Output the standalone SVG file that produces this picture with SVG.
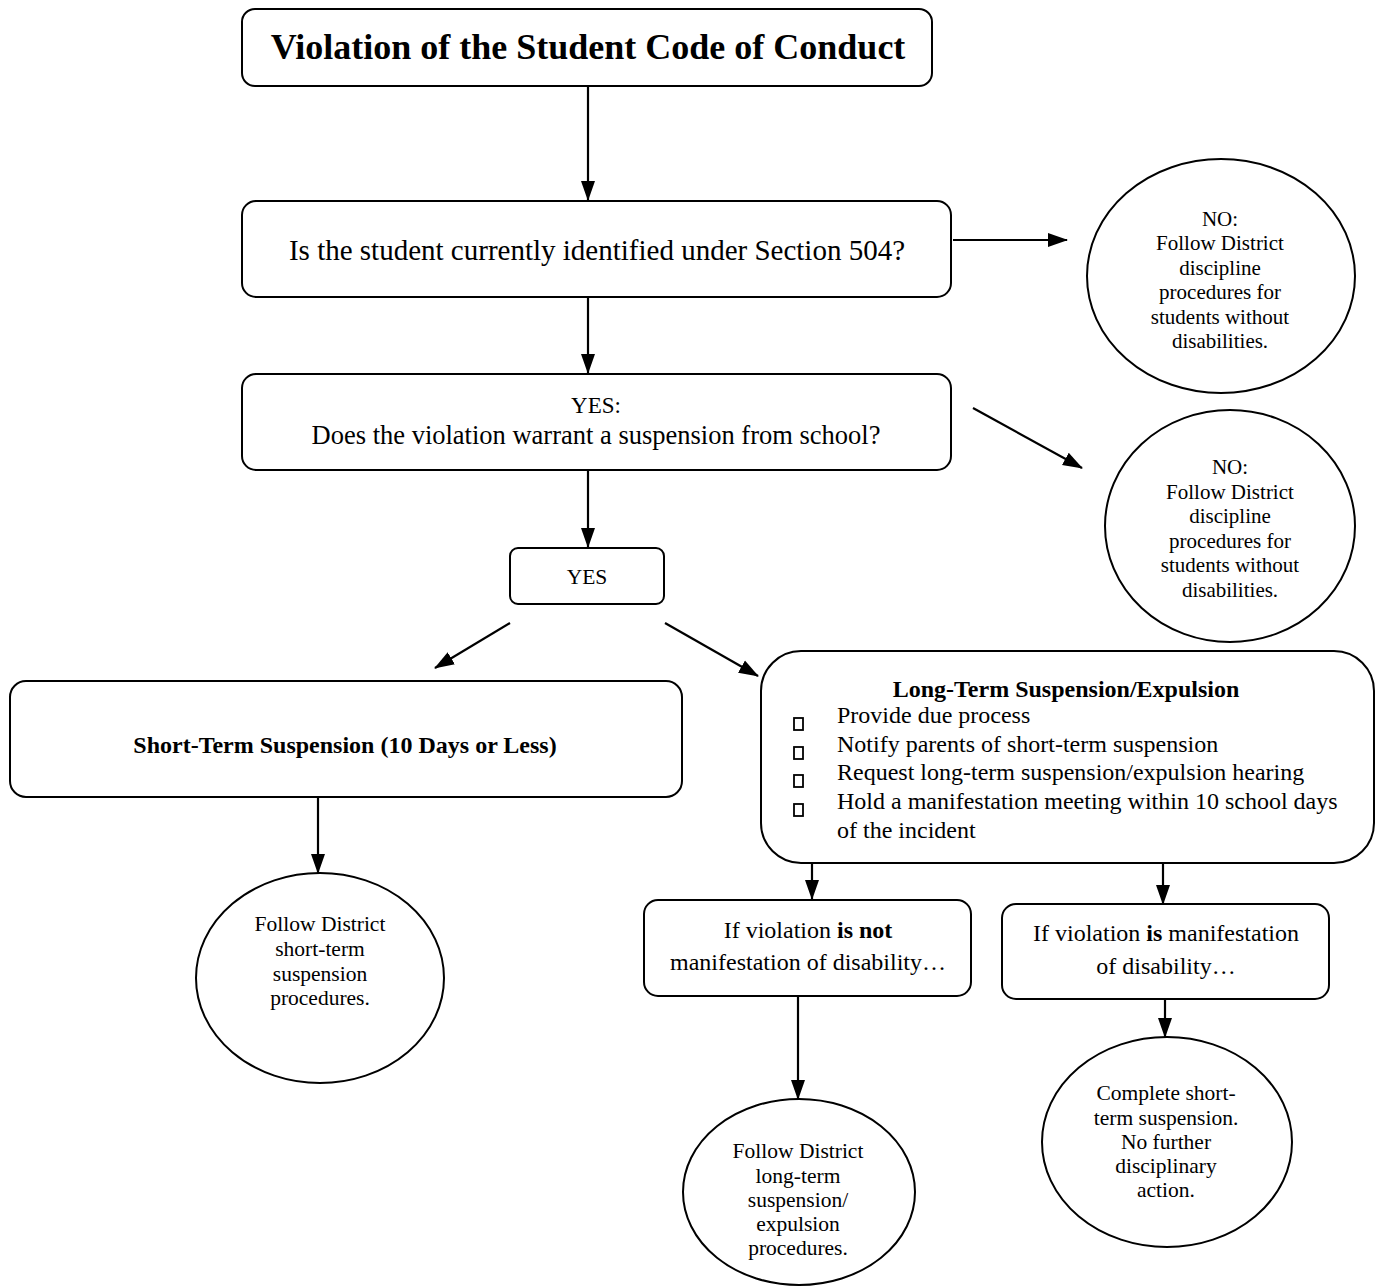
<svg xmlns="http://www.w3.org/2000/svg" width="1381" height="1287" viewBox="0 0 1381 1287">
<defs>
<style>
.box{fill:#fff;stroke:#000;stroke-width:2}
.t{font-family:"Liberation Serif","Times New Roman",serif;fill:#000;text-anchor:middle}
.l{font-family:"Liberation Serif","Times New Roman",serif;fill:#000}
.b{font-weight:bold}
.c{stroke:#000;stroke-width:2.2;fill:none}
.bul{fill:none;stroke:#000;stroke-width:1.8}
</style>
<marker id="ah" markerUnits="userSpaceOnUse" markerWidth="20" markerHeight="16" viewBox="0 0 20 16" refX="19" refY="8" orient="auto">
<path d="M0,1 L20,8 L0,15 Z" fill="#000"/>
</marker>
</defs>
<rect width="1381" height="1287" fill="#fff"/>
<g id="connectors">
<line class="c" x1="588" y1="87" x2="588" y2="200" marker-end="url(#ah)"/>
<line class="c" x1="953" y1="240" x2="1067" y2="240" marker-end="url(#ah)"/>
<line class="c" x1="588" y1="298" x2="588" y2="373" marker-end="url(#ah)"/>
<line class="c" x1="973" y1="408" x2="1082" y2="468" marker-end="url(#ah)"/>
<line class="c" x1="588" y1="470" x2="588" y2="547" marker-end="url(#ah)"/>
<line class="c" x1="510" y1="623" x2="435" y2="668" marker-end="url(#ah)"/>
<line class="c" x1="665" y1="623" x2="758" y2="676" marker-end="url(#ah)"/>
<line class="c" x1="318" y1="797" x2="318" y2="873" marker-end="url(#ah)"/>
<line class="c" x1="812" y1="863" x2="812" y2="899" marker-end="url(#ah)"/>
<line class="c" x1="1163" y1="863" x2="1163" y2="904" marker-end="url(#ah)"/>
<line class="c" x1="798" y1="997" x2="798" y2="1099" marker-end="url(#ah)"/>
<line class="c" x1="1165" y1="1000" x2="1165" y2="1037" marker-end="url(#ah)"/>
</g>
<g id="n-violation">
<rect class="box" x="242" y="9" width="690" height="77" rx="13"/>
<text class="t b" x="588" y="59" font-size="36">Violation of the Student Code of Conduct</text>
</g>
<g id="n-section504">
<rect class="box" x="242" y="201" width="709" height="96" rx="14"/>
<text class="t" x="597" y="260" font-size="29">Is the student currently identified under Section 504?</text>
</g>
<g id="n-no1">
<ellipse class="box" cx="1221" cy="276" rx="134" ry="117"/>
<text class="t" x="1220" y="226" font-size="21">NO:</text>
<text class="t" x="1220" y="250" font-size="21">Follow District</text>
<text class="t" x="1220" y="275" font-size="21">discipline</text>
<text class="t" x="1220" y="299" font-size="21">procedures for</text>
<text class="t" x="1220" y="324" font-size="21">students without</text>
<text class="t" x="1220" y="348" font-size="21">disabilities.</text>
</g>
<g id="n-warrant">
<rect class="box" x="242" y="374" width="709" height="96" rx="14"/>
<text class="t" x="596" y="413" font-size="23">YES:</text>
<text class="t" x="596" y="444" font-size="26.5">Does the violation warrant a suspension from school?</text>
</g>
<g id="n-no2">
<ellipse class="box" cx="1230" cy="526" rx="125" ry="116"/>
<text class="t" x="1230" y="474" font-size="21">NO:</text>
<text class="t" x="1230" y="499" font-size="21">Follow District</text>
<text class="t" x="1230" y="523" font-size="21">discipline</text>
<text class="t" x="1230" y="548" font-size="21">procedures for</text>
<text class="t" x="1230" y="572" font-size="21">students without</text>
<text class="t" x="1230" y="597" font-size="21">disabilities.</text>
</g>
<g id="n-yes">
<rect class="box" x="510" y="548" width="154" height="56" rx="8"/>
<text class="t" x="587" y="584" font-size="21.5">YES</text>
</g>
<g id="n-short">
<rect class="box" x="10" y="681" width="672" height="116" rx="16"/>
<text class="t b" x="345" y="753" font-size="24">Short-Term Suspension (10 Days or Less)</text>
</g>
<g id="n-short-circle">
<ellipse class="box" cx="320" cy="978" rx="124" ry="105"/>
<text class="t" x="320" y="931" font-size="21.5">Follow District</text>
<text class="t" x="320" y="956" font-size="21.5">short-term</text>
<text class="t" x="320" y="981" font-size="21.5">suspension</text>
<text class="t" x="320" y="1005" font-size="21.5">procedures.</text>
</g>
<g id="n-long">
<rect class="box" x="761" y="651" width="613" height="212" rx="40"/>
<text class="t b" x="1066" y="697" font-size="24">Long-Term Suspension/Expulsion</text>
<rect class="bul" x="794" y="718" width="9" height="12"/>
<rect class="bul" x="794" y="747" width="9" height="12"/>
<rect class="bul" x="794" y="775" width="9" height="12"/>
<rect class="bul" x="794" y="804" width="9" height="12"/>
<text class="l" x="837" y="723" font-size="24">Provide due process</text>
<text class="l" x="837" y="752" font-size="24">Notify parents of short-term suspension</text>
<text class="l" x="837" y="780" font-size="24">Request long-term suspension/expulsion hearing</text>
<text class="l" x="837" y="809" font-size="24">Hold a manifestation meeting within 10 school days</text>
<text class="l" x="837" y="838" font-size="24">of the incident</text>
</g>
<g id="n-notmanif">
<rect class="box" x="644" y="900" width="327" height="96" rx="14"/>
<text class="t" x="808" y="938" font-size="24">If violation <tspan class="b">is not</tspan></text>
<text class="t" x="808" y="970" font-size="24">manifestation of disability…</text>
</g>
<g id="n-manif">
<rect class="box" x="1002" y="904" width="327" height="95" rx="14"/>
<text class="t" x="1166" y="941" font-size="24">If violation <tspan class="b">is</tspan> manifestation</text>
<text class="t" x="1166" y="974" font-size="24">of disability…</text>
</g>
<g id="n-long-circle">
<ellipse class="box" cx="799" cy="1192" rx="116" ry="93"/>
<text class="t" x="798" y="1158" font-size="21.5">Follow District</text>
<text class="t" x="798" y="1183" font-size="21.5">long-term</text>
<text class="t" x="798" y="1207" font-size="21.5">suspension/</text>
<text class="t" x="798" y="1231" font-size="21.5">expulsion</text>
<text class="t" x="798" y="1255" font-size="21.5">procedures.</text>
</g>
<g id="n-complete-circle">
<ellipse class="box" cx="1167" cy="1142" rx="125" ry="105"/>
<text class="t" x="1166" y="1100" font-size="21.5">Complete short-</text>
<text class="t" x="1166" y="1125" font-size="21.5">term suspension.</text>
<text class="t" x="1166" y="1149" font-size="21.5">No further</text>
<text class="t" x="1166" y="1173" font-size="21.5">disciplinary</text>
<text class="t" x="1166" y="1197" font-size="21.5">action.</text>
</g>
</svg>
